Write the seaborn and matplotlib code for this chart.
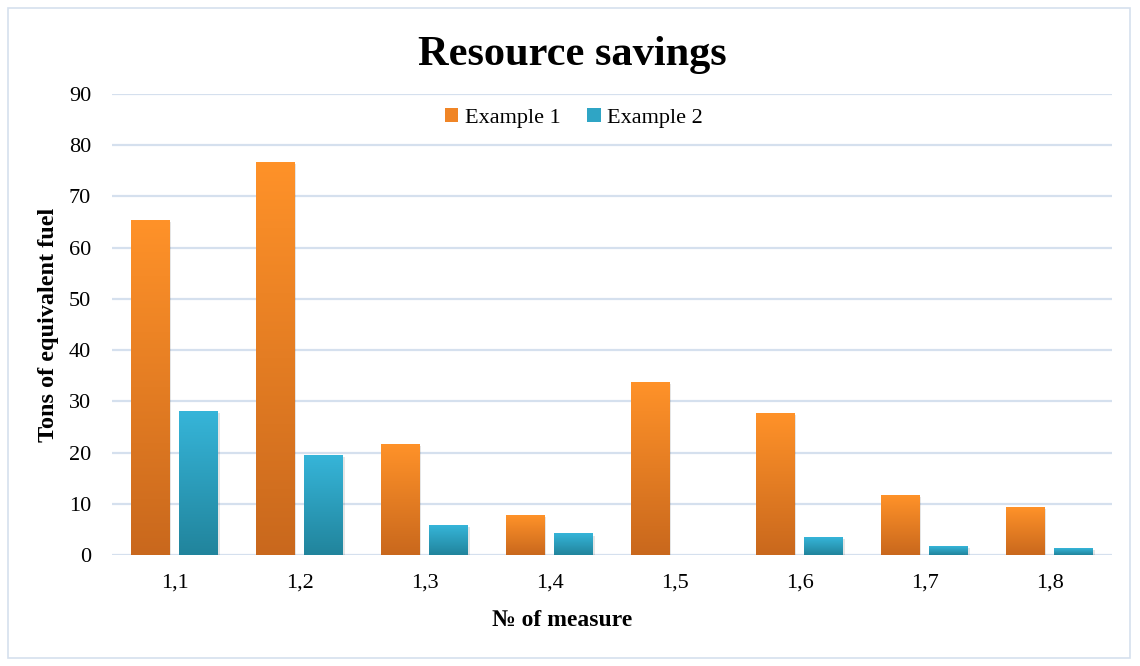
import numpy as np
import pandas as pd
import matplotlib
matplotlib.use("Agg")
import matplotlib.pyplot as plt
import seaborn as sns
from matplotlib.patches import Patch, Rectangle
from matplotlib.colors import to_rgb

measures = ["1,1", "1,2", "1,3", "1,4", "1,5", "1,6", "1,7", "1,8"]
example1 = [65.4, 76.7, 21.5, 7.8, 33.6, 27.7, 11.7, 9.2]
example2 = [28.1, 19.5, 5.7, 4.1, 0.0, 3.5, 1.6, 1.2]
series_names = ["Example 1", "Example 2"]
y_ticks = [0, 10, 20, 30, 40, 50, 60, 70, 80, 90]

df = pd.DataFrame({
    "measure": measures * 2,
    "value": example1 + example2,
    "series": [series_names[0]] * len(measures) + [series_names[1]] * len(measures),
})

sns.set_theme(style="white")
plt.rcParams["font.family"] = ["Liberation Serif", "DejaVu Serif"]
for k in ["text.color", "axes.labelcolor", "xtick.color", "ytick.color"]:
    plt.rcParams[k] = "#000000"

top_cols = {"Example 1": "#FF9229", "Example 2": "#36B5D9"}
bot_cols = {"Example 1": "#C9681D", "Example 2": "#21849C"}
base_cols = {"Example 1": "#F08526", "Example 2": "#2FA5C5"}

fig = plt.figure(figsize=(11.4, 6.66), dpi=100)
ax = fig.add_axes([112 / 1140, 1 - 555 / 666, 1000 / 1140, (555 - 94) / 666])

sns.barplot(data=df, x="measure", y="value", hue="series", palette=base_cols,
            width=0.77, gap=0.19, ax=ax, legend=False, zorder=3)

def grad_img(c_top, c_bot):
    t = np.linspace(0, 1, 256)[:, None]
    a = np.array(to_rgb(c_top))
    b = np.array(to_rgb(c_bot))
    return (a * (1 - t) + b * t).reshape(256, 1, 3)

patches = list(ax.patches)
for p in patches:
    fc = p.get_facecolor()[:3]
    key = min(base_cols, key=lambda k: np.sum((np.array(to_rgb(base_cols[k])) - np.array(fc)) ** 2))
    x0, y0, w, h = p.get_x(), p.get_y(), p.get_width(), p.get_height()
    if h <= 0:
        p.set_visible(False)
        continue
    ax.add_patch(Rectangle((x0 + 0.012, y0 - 0.3), w, h, facecolor="#000000",
                           alpha=0.10, lw=0, zorder=2.5))
    ax.imshow(grad_img(top_cols[key], bot_cols[key]), extent=[x0, x0 + w, y0, y0 + h],
              aspect="auto", origin="upper", zorder=3, interpolation="bilinear")
    p.set_visible(False)

ax.set_xlim(-0.5, len(measures) - 0.5)
ax.set_ylim(0, 90)
ax.set_yticks(y_ticks)
ax.set_yticklabels([str(v) for v in y_ticks], fontsize=16)
ax.set_xticks(range(len(measures)))
ax.set_xticklabels(measures, fontsize=16)
ax.tick_params(axis="y", length=0, pad=15)
ax.tick_params(axis="x", length=0, pad=13)
ax.yaxis.grid(True, color="#D5E0EE", linewidth=1.6, zorder=0)
ax.set_axisbelow(True)
for s in ax.spines.values():
    s.set_visible(False)

ax.set_xlabel("№ of measure", fontsize=17, fontweight="bold")
ax.xaxis.set_label_coords((562 - 112) / 1000, -(620 - 555) / 461)
ax.xaxis.label.set_va("center")
ax.set_ylabel("Tons of equivalent fuel", fontsize=17.5, fontweight="bold", labelpad=7)

fig.text(572 / 1140, 1 - 55 / 666, "Resource savings", fontsize=30.5, fontweight="bold",
         ha="center", va="center")

handles = [Patch(facecolor=base_cols[n], edgecolor="none") for n in series_names]
fig.legend(handles, series_names, loc="center", bbox_to_anchor=(574 / 1140, 1 - 118 / 666),
           ncol=2, frameon=False, fontsize=16, handlelength=0.6, handleheight=0.6,
           handletextpad=0.3, columnspacing=1.2)

fig.add_artist(Rectangle((8 / 1140, 8 / 666), 1122 / 1140, 650 / 666, transform=fig.transFigure,
                         fill=False, edgecolor="#D5E0EE", linewidth=1.2))

fig.savefig("out.png", dpi=100, facecolor="white")
